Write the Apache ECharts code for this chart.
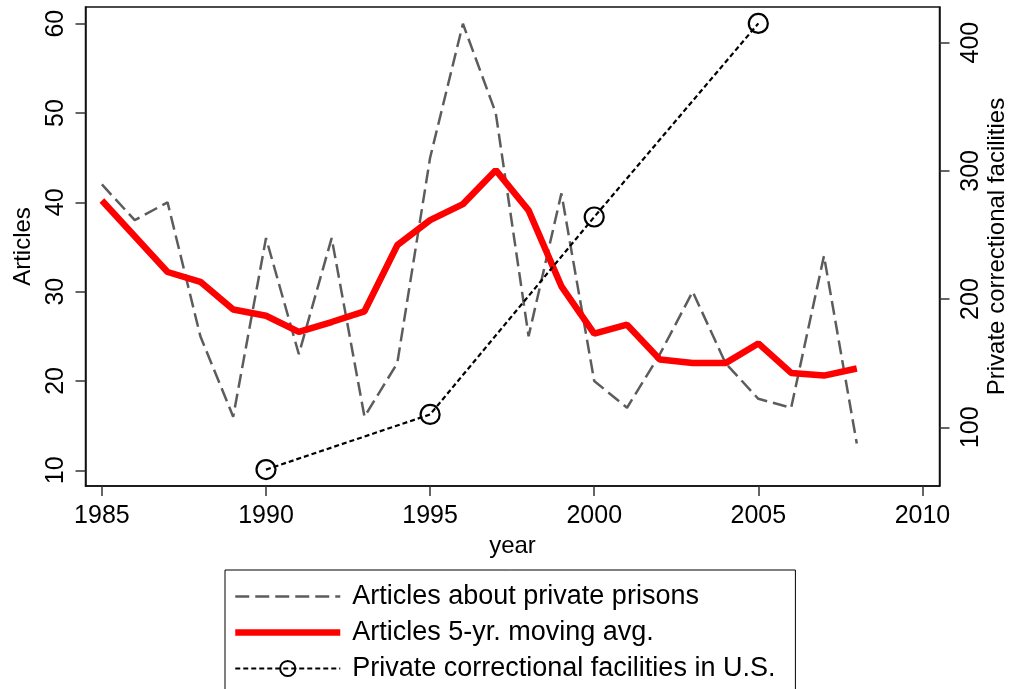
<!DOCTYPE html>
<html>
<head>
<meta charset="utf-8">
<script src="https://cdn.jsdelivr.net/npm/echarts@6/dist/echarts.min.js"></script>
<style>
    body { margin: 0; background: #fff; }
    #chart { width: 1011px; height: 689px; }
</style>
</head>
<body>
<div id="chart"></div>
<script>
// years for the article counts
const years = [1985, 1986, 1987, 1988, 1989, 1990, 1991, 1992, 1993, 1994, 1995, 1996,
    1997, 1998, 1999, 2000, 2001, 2002, 2003, 2004, 2005, 2006, 2007, 2008];
const articles = [42, 38, 40, 25, 16, 36, 23, 36, 16, 22, 45, 60,
    50, 25, 41, 20, 17, 23, 30, 22, 18, 17, 34, 13];
const movingAvg = [40.2, 36.2, 32.2, 31.1, 28.0, 27.3, 25.5, 26.6, 27.8, 35.2, 38.0, 39.8,
    43.6, 39.1, 30.6, 25.3, 26.3, 22.4, 22.0, 22.0, 24.2, 20.9, 20.6, 21.4];
// private correctional facilities (right axis)
const facilityYears = [1990, 1995, 2000, 2005];
const facilities = [67, 110, 264, 415];
// tick labels
const xTicks = [1985, 1990, 1995, 2000, 2005, 2010];
const leftTicks = [10, 20, 30, 40, 50, 60];
const rightTicks = [100, 200, 300, 400];

const font = '"Liberation Sans", Arial, sans-serif';
const axisLineStyle = { color: '#111', width: 1.5 };
const noSymbol = { color: 'rgba(0,0,0,0)', borderWidth: 0, opacity: 0 };

var myChart = echarts.init(document.getElementById('chart'), null, { renderer: 'canvas' });
var option = {
    animation: false,
    backgroundColor: '#fff',
    textStyle: { fontFamily: font, color: '#000' },
    grid: {
        left: 85.5, right: 71.5, top: 7, bottom: 203,
        outerBoundsMode: 'none', containLabel: false,
        show: true, borderColor: '#111', borderWidth: 1.5, backgroundColor: '#fff'
    },
    legend: {
        orient: 'vertical',
        left: 225, top: 570,
        height: 160,
        padding: [13, 20, 30, 7],
        borderColor: '#000', borderWidth: 1,
        itemWidth: 105, itemHeight: 19, itemGap: 9,
        textStyle: { fontSize: 27, color: '#000', fontFamily: font, padding: [0, 0, 0, 7] },
        data: [
            { name: 'Articles about private prisons', lineStyle: { width: 2.5 }, itemStyle: noSymbol },
            { name: 'Articles 5-yr. moving avg.', lineStyle: { width: 6.5 }, itemStyle: noSymbol },
            { name: 'Private correctional facilities in U.S.', lineStyle: { width: 2 } }
        ]
    },
    xAxis: {
        type: 'value',
        min: 1984.5, max: 2010.52,
        name: 'year', nameLocation: 'middle', nameGap: 48,
        nameTextStyle: { fontSize: 24, color: '#000' },
        axisLine: { show: true, lineStyle: axisLineStyle },
        axisTick: { show: true, length: 10, lineStyle: { color: '#333', width: 1.5 }, customValues: xTicks },
        axisLabel: {
            fontSize: 25, color: '#000', margin: 18, customValues: xTicks,
            formatter: function (value) { return String(value); }
        },
        splitLine: { show: false }
    },
    yAxis: [
        {
            type: 'value',
            min: 8.24, max: 61.87,
            name: 'Articles', nameLocation: 'middle', nameRotate: 90, nameGap: 50,
            nameMoveOverlap: false,
            nameTextStyle: { fontSize: 24, color: '#000' },
            axisLine: { show: true, lineStyle: axisLineStyle },
            axisTick: { show: true, length: 10, lineStyle: { color: '#333', width: 1.5 }, customValues: leftTicks },
            axisLabel: { fontSize: 25, color: '#000', rotate: 90, margin: 17, customValues: leftTicks },
            splitLine: { show: false }
        },
        {
            type: 'value',
            position: 'right',
            min: 54.2, max: 427.8,
            name: 'Private correctional facilities', nameLocation: 'middle', nameRotate: 90, nameGap: 46,
            nameMoveOverlap: false,
            nameTextStyle: { fontSize: 24, color: '#000' },
            axisLine: { show: true, lineStyle: axisLineStyle },
            axisTick: { show: true, length: 10, lineStyle: { color: '#333', width: 1.5 }, customValues: rightTicks },
            axisLabel: { fontSize: 25, color: '#000', rotate: 90, margin: 19, customValues: rightTicks },
            splitLine: { show: false }
        }
    ],
    series: [
        {
            name: 'Articles about private prisons',
            type: 'line',
            symbol: 'none',
            color: '#5c5c5c',
            lineStyle: { color: '#5c5c5c', width: 2.5, type: [14, 6] },
            data: years.map((y, i) => [y, articles[i]])
        },
        {
            name: 'Articles 5-yr. moving avg.',
            type: 'line',
            symbol: 'none',
            color: '#ff0000',
            lineStyle: { color: '#ff0000', width: 6.5 },
            data: years.map((y, i) => [y, movingAvg[i]])
        },
        {
            name: 'Private correctional facilities in U.S.',
            type: 'line',
            yAxisIndex: 1,
            symbol: 'circle',
            symbolSize: 19,
            color: '#000',
            itemStyle: { color: 'rgba(0,0,0,0)', borderColor: '#000', borderWidth: 2.2 },
            lineStyle: { color: '#000', width: 2.2, type: [5, 3] },
            data: facilityYears.map((y, i) => [y, facilities[i]])
        }
    ]
};
myChart.setOption(option);
</script>
</body>
</html>
